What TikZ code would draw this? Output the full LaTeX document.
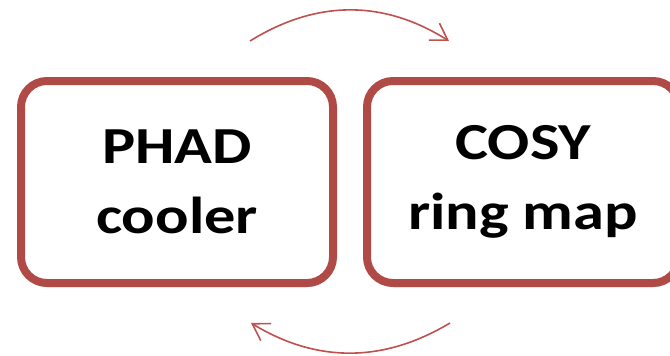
\documentclass[tikz,border=0pt]{standalone}
\usepackage{fontspec}
\setmainfont{Carlito}[FakeStretch=1.2]
\usetikzlibrary{arrows.meta,shadows}
\definecolor{boxred}{RGB}{176,74,71}
\definecolor{arrred}{RGB}{192,80,77}
\tikzset{
  stagebox/.style={draw=boxred, line width=8pt, fill=white, rounded corners=26pt,
    minimum width=312pt, minimum height=202pt, inner sep=0pt, align=center,
    font=\fontsize{52}{70}\selectfont\bfseries,
    drop shadow={shadow xshift=1pt, shadow yshift=-4pt, opacity=0.22, fill=black}},
  cyclearrow/.style={draw=arrred, line width=1.6pt,
    -{Straight Barb[length=16pt,width=20pt,line width=1.6pt]}}
}
\begin{document}
\begin{tikzpicture}[x=1pt,y=-1pt]
\useasboundingbox (0,0) rectangle (670,356);
\clip (0,0) rectangle (670,356);
\fill[white] (0,0) rectangle (670,356);
\node[stagebox] (phad) at (177,182) {PHAD\\cooler};
\node[stagebox] (cosy) at (523,182) {COSY\\ring map};
\coordinate (t1) at (250,41);
\coordinate (t2) at (449,41);
\coordinate (b1) at (450,323);
\coordinate (b2) at (251,323);
\draw[cyclearrow] (t1) .. controls (316.7,-0.3) and (383.3,-0.3) .. (t2);
\draw[cyclearrow] (b1) .. controls (383.3,363) and (316.7,363) .. (b2);
\end{tikzpicture}
\end{document}
